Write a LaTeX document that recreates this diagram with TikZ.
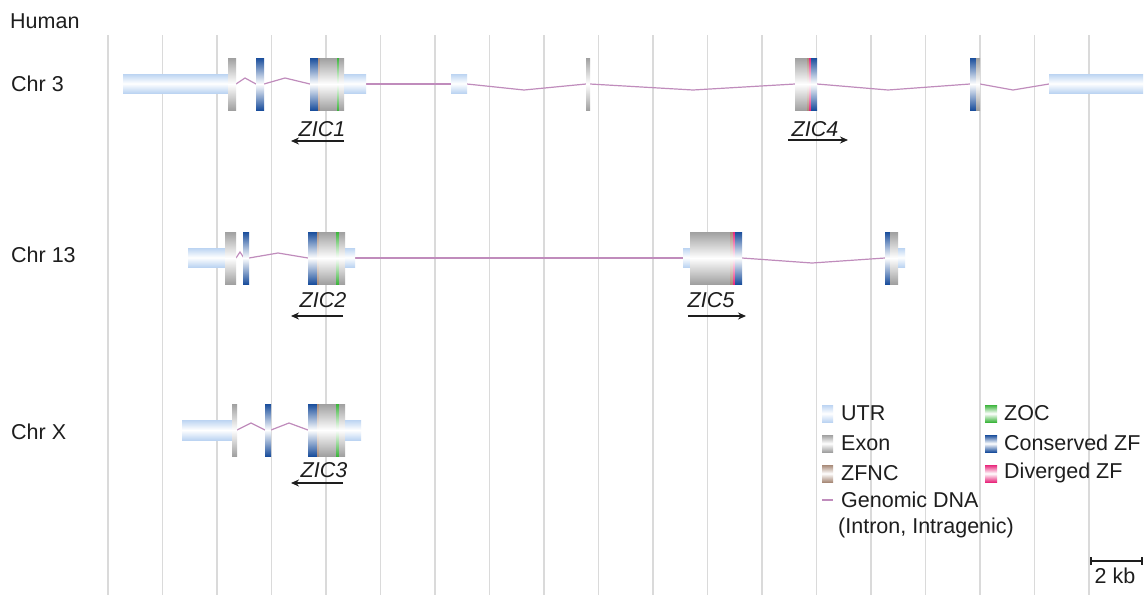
\documentclass[tikz,border=0pt]{standalone}
\usepackage{fontspec}
\setmainfont{Liberation Sans}
\usetikzlibrary{arrows.meta}
\definecolor{txt}{HTML}{1E1E1E}
\definecolor{gridc}{HTML}{DADADA}
\definecolor{utrc}{HTML}{BCD4F2}
\definecolor{exonc}{HTML}{A0A0A0}
\definecolor{czc}{HTML}{1A4E9C}
\definecolor{zocc}{HTML}{3DB53D}
\definecolor{zfncc}{HTML}{A88A78}
\definecolor{dzfc}{HTML}{E8287C}
\definecolor{intc}{HTML}{C08CBC}
\tikzset{
  utr/.style={top color=utrc,bottom color=utrc,middle color=white},
  exon/.style={top color=exonc,bottom color=exonc,middle color=white},
  cz/.style={top color=czc,bottom color=czc,middle color=white},
  zoc/.style={top color=zocc,bottom color=zocc,middle color=white},
  zfnc/.style={top color=zfncc,bottom color=zfncc,middle color=white},
  dzf/.style={top color=dzfc,bottom color=dzfc,middle color=white},
  intron/.style={draw=intc,line width=1.2pt},
  gridline/.style={draw=gridc,line width=1.2pt},
  lbl/.style={text=txt,font=\fontsize{21.5}{26}\selectfont,inner sep=0pt},
  gene/.style={text=txt,font=\fontsize{21.5}{26}\selectfont\itshape,inner sep=0pt},
  dirarrow/.style={draw=txt,line width=1.5pt,-{Stealth[length=8pt,width=7pt]}},
}
\begin{document}
\begin{tikzpicture}[x=1pt,y=-1pt]
\useasboundingbox (0,0) rectangle (1145,595);
\fill[white] (0,0) rectangle (1145,595);
% grid
\foreach \k in {0,...,18} {
  \draw[gridline] ({108+54.5*\k},35) -- ({108+54.5*\k},595);
}
% labels
\node[lbl,anchor=base west] (human) at (10,28) {Human};
\node[lbl,anchor=west] (chr3) at (11,84) {Chr 3};
\node[lbl,anchor=west] (chr13) at (11,255) {Chr 13};
\node[lbl,anchor=west] (chrx) at (11,432) {Chr X};

% ---------- Chr 3 ----------
\draw[intron] (236,84) -- (245,78) -- (256,84);
\draw[intron] (264,84) -- (285,78) -- (310,84);
\draw[intron] (366,84) -- (451,84);
\draw[intron] (467,84) -- (524,90) -- (586,84);
\draw[intron] (590,84) -- (693,90) -- (795,84);
\draw[intron] (817,84) -- (888,90) -- (970,84);
\draw[intron] (980,84) -- (1013,90) -- (1049,84);
\shade[utr] (123,74) rectangle (228,93);
\shade[exon] (228,58) rectangle (236,110);
\shade[cz] (256,58) rectangle (264,110);
\shade[cz] (310,58) rectangle (318,110);
\shade[zfnc] (318,58) rectangle (320,110);
\shade[exon] (320,58) rectangle (337,110);
\shade[zoc] (337,58) rectangle (339,110);
\shade[exon] (339,58) rectangle (344,110);
\shade[utr] (344,74) rectangle (366,93);
\shade[utr] (451,74) rectangle (467,93);
\shade[exon] (586,58) rectangle (590,110);
\shade[exon] (795,58) rectangle (807,110);
\shade[zfnc] (807,58) rectangle (809,110);
\shade[dzf] (809,58) rectangle (811,110);
\shade[cz] (811,58) rectangle (817,110);
\shade[cz] (970,58) rectangle (976,110);
\shade[exon] (976,58) rectangle (980,110);
\shade[utr] (1049,74) rectangle (1143,93);
\node[gene] (zic1) at (322,129) {ZIC1};
\coordinate (zic1a) at (344,141);
\coordinate (zic1b) at (291,141);
\draw[dirarrow] (zic1a) -- (zic1b);
\node[gene] (zic4) at (815,129) {ZIC4};
\coordinate (zic4a) at (788,140);
\coordinate (zic4b) at (848,140);
\draw[dirarrow] (zic4a) -- (zic4b);

% ---------- Chr 13 ----------
\draw[intron] (236,258) -- (240,252) -- (244,258);
\draw[intron] (249,258) -- (278,253) -- (308,258);
\draw[intron] (355,258) -- (683,258);
\draw[intron] (742,258) -- (812,263) -- (885,258);
\shade[utr] (188,248) rectangle (225,267);
\shade[exon] (225,232) rectangle (236,284);
\shade[cz] (243,232) rectangle (249,284);
\shade[cz] (308,232) rectangle (317,284);
\shade[zfnc] (317,232) rectangle (319,284);
\shade[exon] (319,232) rectangle (336,284);
\shade[zoc] (336,232) rectangle (339,284);
\shade[exon] (339,232) rectangle (345,284);
\shade[utr] (345,248) rectangle (355,267);
\shade[utr] (683,248) rectangle (690,267);
\shade[exon] (690,232) rectangle (730,284);
\shade[zfnc] (730,232) rectangle (733,284);
\shade[dzf] (733,232) rectangle (735,284);
\shade[cz] (735,232) rectangle (742,284);
\shade[cz] (885,232) rectangle (890,284);
\shade[exon] (890,232) rectangle (898,284);
\shade[utr] (898,248) rectangle (905,267);
\node[gene] (zic2) at (323,300) {ZIC2};
\coordinate (zic2a) at (343,316);
\coordinate (zic2b) at (291,316);
\draw[dirarrow] (zic2a) -- (zic2b);
\node[gene] (zic5) at (711,300) {ZIC5};
\coordinate (zic5a) at (688,316);
\coordinate (zic5b) at (746,316);
\draw[dirarrow] (zic5a) -- (zic5b);

% ---------- Chr X ----------
\draw[intron] (237,430) -- (251,423) -- (265,430);
\draw[intron] (271,430) -- (289,423) -- (308,430);
\shade[utr] (182,420) rectangle (232,440);
\shade[exon] (232,404) rectangle (237,456);
\shade[cz] (265,404) rectangle (271,456);
\shade[cz] (308,404) rectangle (317,456);
\shade[zfnc] (317,404) rectangle (319,456);
\shade[exon] (319,404) rectangle (336,456);
\shade[zoc] (336,404) rectangle (339,456);
\shade[exon] (339,404) rectangle (345,456);
\shade[utr] (345,420) rectangle (361,440);
\node[gene] (zic3) at (324,470) {ZIC3};
\coordinate (zic3a) at (343,483);
\coordinate (zic3b) at (291,483);
\draw[dirarrow] (zic3a) -- (zic3b);

% ---------- Legend ----------
\shade[utr] (822,405) rectangle (833,422);
\node[lbl,anchor=west] (lutr) at (841,413) {UTR};
\shade[exon] (822,435) rectangle (833,452);
\node[lbl,anchor=west] (lexon) at (841,443) {Exon};
\shade[zfnc] (822,465) rectangle (833,482);
\node[lbl,anchor=west] (lzfnc) at (841,473) {ZFNC};
\draw[intron] (822,500) -- (833,500);
\node[lbl,anchor=west] (ldna) at (841,500) {Genomic DNA};
\node[lbl,anchor=west] (ldna2) at (838,528) {(Intron, Intragenic)};
\shade[zoc] (985,405) rectangle (997,422);
\node[lbl,anchor=west] (lzoc) at (1004,413) {ZOC};
\shade[cz] (985,435) rectangle (997,452);
\node[lbl,anchor=west] (lcz) at (1004,443) {Conserved ZF};
\shade[dzf] (985,465) rectangle (997,482);
\node[lbl,anchor=west] (ldzf) at (1004,473) {Diverged ZF};

% ---------- Scale bar ----------
\coordinate (sb1) at (1090,561);
\coordinate (sb2) at (1143,561);
\draw[draw=txt,line width=2pt,{Bar[width=8pt]}-{Bar[width=8pt]}] (sb1) -- (sb2);
\node[lbl] (kb) at (1115,576) {2 kb};
\end{tikzpicture}
\end{document}
